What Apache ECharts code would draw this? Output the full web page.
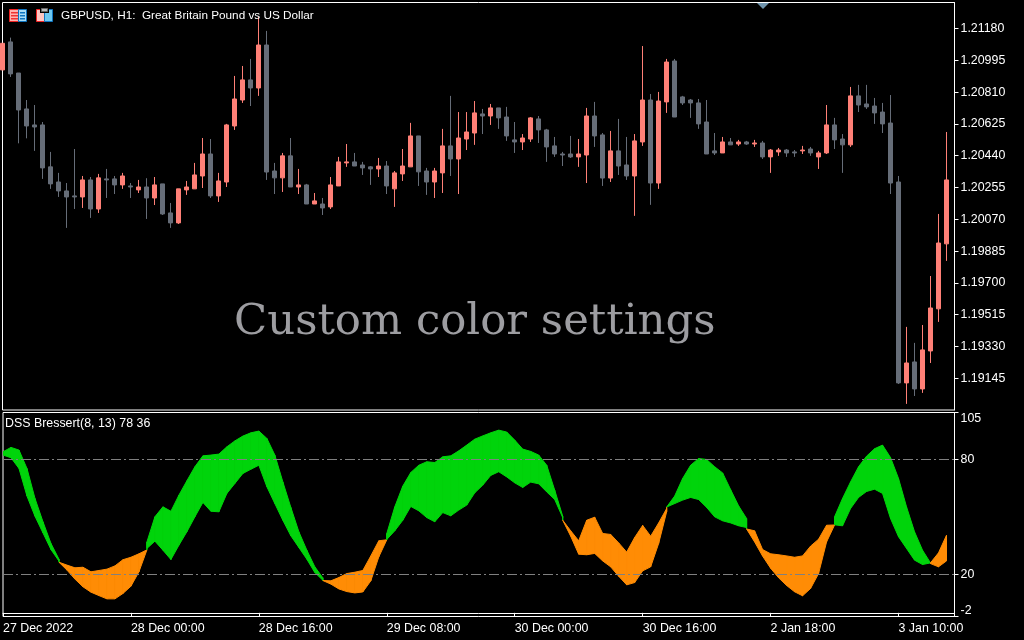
<!DOCTYPE html>
<html><head><meta charset="utf-8">
<style>html,body{margin:0;padding:0;background:#000}#c{width:1024px;height:640px}</style>
<script src="https://cdn.jsdelivr.net/npm/echarts@6/dist/echarts.min.js"></script>
</head><body><div id="c"></div>
<script>
const title = 'GBPUSD, H1:  Great Britain Pound vs US Dollar';
const indicatorTitle = 'DSS Bressert(8, 13) 78 36';
const overlayText = 'Custom color settings';
const timeTicks = ['27 Dec 2022','28 Dec 00:00','28 Dec 16:00','29 Dec 08:00','30 Dec 00:00','30 Dec 16:00','2 Jan 18:00','3 Jan 10:00'];
const priceTicks = [1.21180,1.20995,1.20810,1.20625,1.20440,1.20255,1.20070,1.19885,1.19700,1.19515,1.19330,1.19145];
const dssTicks = [-1.9,20,80,104.5];
const levels = [80,20];
const opens = [
1.20939,1.21102,1.20921,1.20712,1.20619,1.20619,1.20375,1.20287,1.20235,1.20206,
1.20200,1.20299,1.20130,1.20305,1.20305,1.20270,1.20264,1.20241,1.20258,1.20194,
1.20276,1.20107,1.20049,1.20241,1.20247,1.20322,1.20450,1.20206,1.20287,1.20613,
1.20764,1.20881,1.20834,1.21084,1.20351,1.20311,1.20439,1.20258,1.20270,1.20159,
1.20159,1.20142,1.20264,1.20398,1.20404,1.20386,1.20375,1.20363,1.20380,1.20247,
1.20334,1.20375,1.20555,1.20351,1.20287,1.20340,1.20497,1.20421,1.20537,1.20572,
1.20683,1.20671,1.20718,1.20665,1.20532,1.20520,1.20537,1.20654,1.20590,1.20497,
1.20450,1.20450,1.20433,1.20444,1.20671,1.20561,1.20310,1.20468,1.20386,1.20322,
1.20520,1.20764,1.20281,1.20753,1.20991,1.20782,1.20764,1.20747,1.20636,1.20468,
1.20456,1.20520,1.20508,1.20520,1.20508,1.20514,1.20433,1.20462,1.20473,1.20462,
1.20468,1.20479,1.20433,1.20456,1.20619,1.20537,1.20503,1.20788,1.20741,1.20729,
1.20694,1.20630,1.20287,1.19118,1.19240,1.19083,1.19304,1.19549,1.19927];
const closes = [
1.21094,1.20916,1.20706,1.20613,1.20607,1.20369,1.20276,1.20235,1.20200,1.20200,
1.20299,1.20130,1.20311,1.20299,1.20270,1.20322,1.20258,1.20258,1.20194,1.20270,
1.20101,1.20049,1.20247,1.20258,1.20328,1.20450,1.20206,1.20293,1.20619,1.20770,
1.20881,1.20834,1.21084,1.20345,1.20311,1.20439,1.20258,1.20270,1.20159,1.20177,
1.20136,1.20270,1.20404,1.20404,1.20380,1.20369,1.20363,1.20380,1.20264,1.20340,
1.20380,1.20555,1.20346,1.20287,1.20351,1.20497,1.20421,1.20543,1.20578,1.20689,
1.20671,1.20718,1.20660,1.20555,1.20520,1.20543,1.20660,1.20590,1.20491,1.20450,
1.20444,1.20433,1.20450,1.20671,1.20555,1.20310,1.20468,1.20380,1.20322,1.20526,
1.20764,1.20281,1.20758,1.20985,1.20665,1.20747,1.20747,1.20625,1.20450,1.20456,
1.20520,1.20503,1.20520,1.20508,1.20514,1.20433,1.20473,1.20473,1.20456,1.20456,
1.20473,1.20456,1.20456,1.20619,1.20532,1.20503,1.20788,1.20735,1.20724,1.20689,
1.20625,1.20281,1.19118,1.19234,1.19083,1.19310,1.19554,1.19932,1.20299];
const lows = [
1.20939,1.20898,1.20512,1.20541,1.20468,1.20305,1.20247,1.20200,1.20020,1.20130,
1.20136,1.20078,1.20107,1.20194,1.20217,1.20247,1.20194,1.20223,1.20072,1.20153,
1.20095,1.20020,1.20043,1.20212,1.20247,1.20252,1.20194,1.20171,1.20258,1.20590,
1.20747,1.20729,1.20788,1.20299,1.20217,1.20229,1.20258,1.20217,1.20159,1.20159,
1.20095,1.20130,1.20264,1.20375,1.20380,1.20328,1.20270,1.20316,1.20217,1.20142,
1.20293,1.20375,1.20264,1.20212,1.20194,1.20223,1.20322,1.20217,1.20473,1.20503,
1.20566,1.20619,1.20596,1.20526,1.20456,1.20473,1.20520,1.20514,1.20404,1.20433,
1.20380,1.20427,1.20375,1.20281,1.20491,1.20264,1.20287,1.20328,1.20299,1.20090,
1.20497,1.20154,1.20247,1.20689,1.20665,1.20735,1.20660,1.20596,1.20450,1.20444,
1.20456,1.20503,1.20497,1.20503,1.20491,1.20421,1.20340,1.20439,1.20433,1.20433,
1.20450,1.20439,1.20363,1.20450,1.20479,1.20340,1.20491,1.20694,1.20712,1.20625,
1.20572,1.20217,1.19112,1.18996,1.19042,1.19060,1.19234,1.19473,1.19828];
const highs = [
1.21094,1.21127,1.20921,1.20764,1.20735,1.20636,1.20462,1.20340,1.20281,1.20479,
1.20322,1.20316,1.20334,1.20363,1.20322,1.20340,1.20281,1.20299,1.20309,1.20316,
1.20276,1.20165,1.20247,1.20293,1.20398,1.20543,1.20537,1.20340,1.20625,1.20904,
1.20962,1.21003,1.21249,1.21166,1.20398,1.20456,1.20543,1.20363,1.20276,1.20223,
1.20194,1.20316,1.20433,1.20508,1.20456,1.20404,1.20380,1.20427,1.20409,1.20351,
1.20479,1.20631,1.20555,1.20369,1.20369,1.20596,1.20788,1.20694,1.20694,1.20758,
1.20712,1.20741,1.20718,1.20724,1.20636,1.20566,1.20665,1.20671,1.20596,1.20549,
1.20462,1.20555,1.20537,1.20718,1.20753,1.20572,1.20584,1.20654,1.20549,1.20566,
1.21078,1.20799,1.20811,1.21003,1.21003,1.20788,1.20770,1.20770,1.20764,1.20572,
1.20549,1.20543,1.20532,1.20526,1.20532,1.20526,1.20479,1.20485,1.20479,1.20473,
1.20497,1.20491,1.20468,1.20735,1.20660,1.20566,1.20840,1.20852,1.20852,1.20776,
1.20747,1.20793,1.20322,1.19444,1.19351,1.19455,1.19740,1.20101,1.20578];
const dssFast = [
84.0,86.3,84.9,75.3,59.7,47.5,36.2,28.0,22.3,17.6,
13.6,10.8,9.0,7.3,7.3,10.1,13.9,21.4,37.0,50.1,
55.3,53.0,61.4,68.9,76.2,81.9,82.3,82.8,86.6,89.7,
92.2,93.9,94.8,91.0,82.3,68.3,55.0,42.3,32.7,24.0,
18.3,15.0,12.5,11.1,10.4,10.9,16.7,29.2,41.4,55.3,
66.1,73.2,77.0,78.8,78.4,81.4,81.9,84.5,87.5,90.6,
92.3,93.9,95.3,94.3,90.1,85.4,84.2,82.3,77.0,64.0,
50.4,40.0,30.6,30.3,31.0,27.1,24.0,19.1,14.6,15.8,
21.9,24.0,36.2,52.7,60.9,70.1,77.0,80.5,80.0,76.2,
73.0,64.3,55.8,49.2,37.0,29.6,23.3,18.3,14.3,11.0,
8.9,12.7,20.5,37.0,50.1,59.7,68.3,76.2,81.7,85.6,
87.5,81.0,70.1,55.3,42.3,32.7,25.7,24.0,27.1];
const dssSlow = [
82.3,80.9,75.3,60.9,50.4,41.7,33.0,27.0,24.9,23.5,
23.8,21.4,22.1,22.8,24.5,27.7,29.0,30.8,33.6,37.4,
32.7,27.8,35.3,42.3,50.1,57.6,53.0,52.7,62.3,67.5,
72.7,74.9,77.0,65.8,57.0,48.3,40.2,34.1,28.0,21.0,
17.0,16.7,18.4,20.5,21.2,22.1,29.7,37.6,38.3,42.8,
48.3,55.5,53.2,49.7,47.5,52.3,50.6,53.6,56.2,62.6,
66.6,71.7,73.6,70.9,67.8,65.4,68.2,67.3,63.1,59.1,
49.7,42.8,37.6,48.3,49.9,41.4,40.9,36.5,31.7,39.3,
45.6,40.0,46.9,54.4,57.0,58.8,60.2,59.1,55.0,50.1,
48.0,46.9,45.4,44.5,42.8,33.0,30.8,30.3,29.7,29.0,
29.7,34.8,38.4,45.7,45.9,45.4,54.4,60.2,63.3,64.5,
62.3,49.2,39.7,33.6,27.5,25.2,26.1,31.3,40.5];

const UP='#ff8077', DOWN='#666d78', GREEN='#00d40b', ORANGE='#ff8c05', WHITE='#ffffff';
const FONT='"Liberation Sans"';
// one slot per hourly bar, plus the empty slot at the right edge of the pane
const categories = [...opens.map((_,i)=> i%16===0 ? timeTicks[i/16] : ''), ''];
const candles = opens.map((o,i)=>[o,closes[i],lows[i],highs[i]]);
const dss = dssFast.map((f,i)=>[i,f,dssSlow[i]]);

function renderFill(params, api){
  const i=params.dataIndex;
  if(i>=dssFast.length-1) return null;
  const f0=dssFast[i],s0=dssSlow[i],f1=dssFast[i+1],s1=dssSlow[i+1];
  const d0=f0-s0,d1=f1-s1;
  const poly=(pts,col)=>({type:'polygon',shape:{points:pts.map(p=>api.coord(p))},
    style:{fill:col,stroke:col,lineWidth:1}});
  if(d0*d1<0){
    const t=d0/(d0-d1), xc=i+t, yc=f0+(f1-f0)*t;
    return {type:'group',children:[
      poly([[i,f0],[xc,yc],[i,s0]],d0>0?GREEN:ORANGE),
      poly([[xc,yc],[i+1,f1],[i+1,s1]],d1>0?GREEN:ORANGE)]};
  }
  return poly([[i,f0],[i+1,f1],[i+1,s1],[i,s0]],(d0+d1)>0?GREEN:ORANGE);
}

const chart=echarts.init(document.getElementById('c'),null,{renderer:'canvas'});
const txt=(x,y,t,size,col,extra)=>({type:'text',x,y,silent:true,z:50,
  style:Object.assign({text:t,fill:col,font:size+'px '+FONT,textVerticalAlign:'top'},extra||{})});
const rect=(x,y,w,h,fill,stroke)=>({type:'rect',silent:true,z:50,shape:{x,y,width:w,height:h},
  style:{fill:fill||'transparent',stroke:stroke||null,lineWidth:1}});
chart.setOption({
  animation:false,backgroundColor:'#000',
  grid:[
    {left:2.5,top:2.5,width:952,height:407.5,show:true,borderColor:WHITE,borderWidth:1,backgroundColor:'transparent'},
    {left:2.5,top:412.5,width:952,height:204,show:true,borderColor:WHITE,borderWidth:1,backgroundColor:'transparent'}],
  xAxis:[
    {gridIndex:0,type:'category',data:categories,boundaryGap:false,show:false},
    {gridIndex:1,type:'category',data:categories,boundaryGap:false,
     axisLine:{show:true,lineStyle:{color:WHITE}},
     axisTick:{show:true,interval:15,length:4,lineStyle:{color:WHITE}},
     splitLine:{show:false},
     axisLabel:{interval:15,color:WHITE,fontFamily:FONT,fontSize:12.4,align:'left',margin:6,hideOverlap:false,showMinLabel:true}}],
  yAxis:[
    {gridIndex:0,type:'value',position:'right',min:1.189604,max:1.213313,scale:true,
     axisLine:{show:true,lineStyle:{color:WHITE}},
     axisTick:{show:true,length:4,customValues:priceTicks,lineStyle:{color:WHITE}},
     splitLine:{show:false},
     axisLabel:{color:WHITE,fontFamily:FONT,fontSize:12.4,margin:6,customValues:priceTicks,formatter:v=>v.toFixed(5)}},
    {gridIndex:1,type:'value',position:'right',min:-1.9,max:104.5,
     axisLine:{show:true,lineStyle:{color:WHITE}},
     axisTick:{show:true,length:4,customValues:dssTicks,lineStyle:{color:WHITE}},
     splitLine:{show:false},
     axisLabel:{color:WHITE,fontFamily:FONT,fontSize:12.4,margin:6,customValues:dssTicks,
       verticalAlignMinLabel:'bottom',verticalAlignMaxLabel:'top',formatter:v=>String(Math.round(v))}}],
  series:[
    {type:'candlestick',name:'GBPUSD',xAxisIndex:0,yAxisIndex:0,data:candles,barWidth:5,clip:true,
     itemStyle:{color:UP,color0:DOWN,borderColor:UP,borderColor0:DOWN,borderWidth:1}},
    {type:'custom',name:'DSS',xAxisIndex:1,yAxisIndex:1,data:dss,renderItem:renderFill,clip:true,
     encode:{x:0,y:[1,2]},
     markLine:{silent:true,symbol:'none',label:{show:false},animation:false,
       lineStyle:{color:'#808080',width:1,type:[10,3,2,3]},
       data:levels.map(v=>({yAxis:v}))}}],
  graphic:[
    txt(61,10,title,11.75,WHITE),
    txt(5,418,indicatorTitle,12.4,WHITE),
    {type:'text',x:234,y:301,silent:true,z:40,style:{text:overlayText,fill:'#9d9da1',font:'43.4px "DejaVu Serif"',textVerticalAlign:'top'}},
    // toolbar icons
    rect(9.5,9.5,9,12,'#ffb3ae','#ee2222'),rect(18.5,9.5,8,12,'#a8dcf5','#0f74c0'),
    rect(11,12,7,1.5,'#ee3333'),rect(11,15,7,1.5,'#ee3333'),rect(11,18,7,1.5,'#ee3333'),
    rect(20,12,5,1.5,'#0f74c0'),rect(20,15,5,1.5,'#0f74c0'),rect(20,18,5,1.5,'#0f74c0'),
    rect(36.5,9.5,8,12,'#ffc6c2','#ee2222'),rect(44.5,9.5,8,12,'#6fc8f0','#0f74c0'),
    rect(40,7,9,6,'#000'),rect(41.5,8.5,6,3,'#b8b8b8','#666666'),
    {type:'polygon',silent:true,z:50,shape:{points:[[757,3],[769,3],[763,9]]},style:{fill:'#6f94ac'}}
  ]
});
</script></body></html>
